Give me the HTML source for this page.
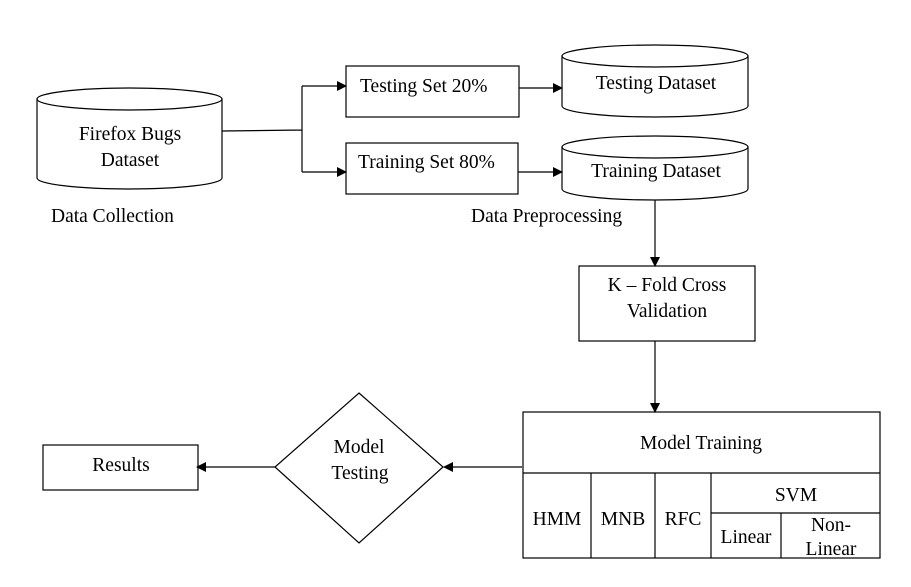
<!DOCTYPE html>
<html><head><style>body{margin:0;background:#fff}svg{display:block}text{font-family:"Liberation Serif",serif;font-size:19.5px;fill:#000}</style></head><body>
<svg width="911" height="587" viewBox="0 0 911 587" xmlns="http://www.w3.org/2000/svg">
<defs><marker id="a" markerWidth="10" markerHeight="10" refX="9" refY="5" orient="auto" markerUnits="userSpaceOnUse"><path d="M0,0 L10,5 L0,10z" fill="#000"/></marker></defs>
<g fill="none" stroke="#000" stroke-width="1.2">
<path d="M37,99 V178 A92.5,11 0 0 0 222,178 V99"/><ellipse cx="129.5" cy="99" rx="92.5" ry="11"/>
<path d="M562,56 V106 A93,11 0 0 0 748,106 V56"/><ellipse cx="655" cy="56" rx="93" ry="11"/>
<path d="M562,147 V189 A93,11 0 0 0 748,189 V147"/><ellipse cx="655" cy="147" rx="93" ry="11"/>
<rect x="346" y="66" width="173" height="51"/>
<rect x="346" y="143" width="172" height="51"/>
<rect x="579" y="266" width="176" height="75"/>
<rect x="43" y="445" width="155" height="45"/>
<path d="M359,393 L443,467 L359,543 L275,467Z"/>
<rect x="523" y="412" width="357" height="146"/>
<path d="M523,473H880 M591,473V558 M655,473V558 M711,473V558 M711,513H880 M781,513V558"/>
<path d="M222,131 L302,130 M302,86 V172"/>
<path d="M302,86H346" marker-end="url(#a)"/><path d="M302,172H346" marker-end="url(#a)"/>
<path d="M519,88H562" marker-end="url(#a)"/><path d="M518,172H562" marker-end="url(#a)"/>
<path d="M655,200V266" marker-end="url(#a)"/><path d="M655,341V412" marker-end="url(#a)"/>
<path d="M522,467H444" marker-end="url(#a)"/><path d="M275,467H197" marker-end="url(#a)"/>
</g>
<text x="130" y="140" text-anchor="middle">Firefox Bugs</text>
<text x="130" y="166" text-anchor="middle">Dataset</text>
<text x="51" y="222">Data Collection</text>
<text x="360" y="92">Testing Set 20%</text>
<text x="358" y="168">Training Set 80%</text>
<text x="656" y="89" text-anchor="middle">Testing Dataset</text>
<text x="656" y="177" text-anchor="middle">Training Dataset</text>
<text x="471" y="222">Data Preprocessing</text>
<text x="667" y="291" text-anchor="middle">K – Fold Cross</text>
<text x="667" y="317" text-anchor="middle">Validation</text>
<text x="701" y="449" text-anchor="middle">Model Training</text>
<text x="557" y="525" text-anchor="middle">HMM</text>
<text x="623" y="525" text-anchor="middle">MNB</text>
<text x="683" y="525" text-anchor="middle">RFC</text>
<text x="796" y="501" text-anchor="middle">SVM</text>
<text x="746" y="543" text-anchor="middle">Linear</text>
<text x="831" y="531" text-anchor="middle">Non-</text>
<text x="831" y="555" text-anchor="middle">Linear</text>
<text x="359" y="453" text-anchor="middle">Model</text>
<text x="360" y="479" text-anchor="middle">Testing</text>
<text x="121" y="471" text-anchor="middle">Results</text>
</svg>
</body></html>
